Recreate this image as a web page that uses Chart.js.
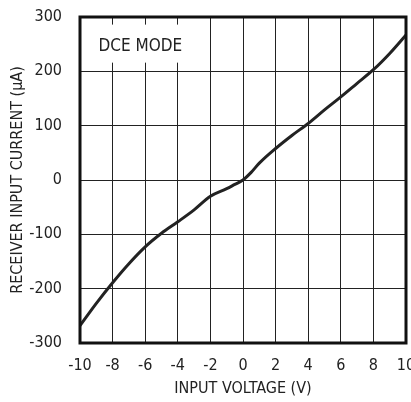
<!DOCTYPE html>
<html><head><meta charset="utf-8">
<script src="https://cdn.jsdelivr.net/npm/chart.js@4"></script>
<style>html,body{margin:0;padding:0;background:#fff;}#wrap{width:411px;height:402px;}</style>
</head><body><div id="wrap"><canvas id="c" width="411" height="402"></canvas></div>
<script>
const voltage = [-10,-9,-8,-7,-6,-5,-4,-3,-2,-1,-0.5,0,0.5,1,2,3,4,5,6,7,8,9,10];
const current = [-268,-227,-189,-154,-123,-98,-77,-55,-30,-16,-8,0,14,31,58,82,104,129,153,178,203,233,267];
const xTicks = [-10,-8,-6,-4,-2,0,2,4,6,8,10];
const yTicks = [-300,-200,-100,0,100,200,300];
const modeLabel = 'DCE MODE';

const FONT = '"Liberation Sans Narrow", "DejaVu Sans Condensed", "Liberation Sans", sans-serif';

const labelPlugin = {
  id: 'modeLabel',
  beforeDatasetsDraw(chart) {
    const ctx = chart.ctx;
    const xs = chart.scales.x, ys = chart.scales.y;
    const x0 = xs.getPixelForValue(-9.3), x1 = xs.getPixelForValue(-3.9);
    const y0 = ys.getPixelForValue(286), y1 = ys.getPixelForValue(216);
    ctx.save();
    ctx.fillStyle = '#fff';
    ctx.fillRect(x0, y0, x1 - x0, y1 - y0);
    ctx.fillStyle = '#222';
    ctx.font = '17px ' + FONT;
    ctx.textAlign = 'center';
    ctx.textBaseline = 'middle';
    ctx.fillText(modeLabel, xs.getPixelForValue(-6.3), ys.getPixelForValue(245));
    ctx.restore();
  }
};

const borderPlugin = {
  id: 'frame',
  afterDatasetsDraw(chart) {
    const a = chart.chartArea, ctx = chart.ctx;
    ctx.save();
    ctx.strokeStyle = '#111';
    ctx.lineWidth = 3;
    ctx.strokeRect(a.left, a.top, a.right - a.left, a.bottom - a.top);
    ctx.restore();
  }
};

new Chart(document.getElementById('c'), {
  type: 'line',
  data: {
    datasets: [{
      data: voltage.map((v, i) => ({x: v, y: current[i]})),
      borderColor: '#222',
      borderWidth: 3,
      pointRadius: 0,
      fill: false,
      cubicInterpolationMode: 'monotone'
    }]
  },
  options: {
    responsive: false,
    animation: false,
    devicePixelRatio: 1,
    layout: {padding: {top: 17, right: 5, left: 0, bottom: 0}},
    plugins: {legend: {display: false}, tooltip: {enabled: false}},
    scales: {
      x: {
        type: 'linear', min: -10, max: 10,
        afterBuildTicks(s) { s.ticks = xTicks.map(v => ({value: v})); },
        afterFit(s) { s.height = 59; s.paddingLeft = 0; s.paddingRight = 0; },
        grid: {color: '#222', lineWidth: 1, drawTicks: false},
        border: {display: false},
        ticks: {color: '#222', padding: 13, maxRotation: 0, autoSkip: false, font: {family: FONT, size: 16}},
        title: {display: true, text: 'INPUT VOLTAGE (V)', color: '#222', font: {family: FONT, size: 16}, padding: {top: 7}}
      },
      y: {
        min: -300, max: 300,
        afterBuildTicks(s) { s.ticks = yTicks.map(v => ({value: v})); },
        afterFit(s) { s.width = 80; s.paddingTop = 0; s.paddingBottom = 0; },
        grid: {color: '#222', lineWidth: 1, drawTicks: false},
        border: {display: false},
        ticks: {color: '#222', padding: 18, autoSkip: false, font: {family: FONT, size: 16}},
        title: {display: true, text: 'RECEIVER INPUT CURRENT (μA)', color: '#222', font: {family: FONT, size: 16}, padding: {bottom: 0, top: 8}}
      }
    }
  },
  plugins: [labelPlugin, borderPlugin]
});
</script></body></html>
